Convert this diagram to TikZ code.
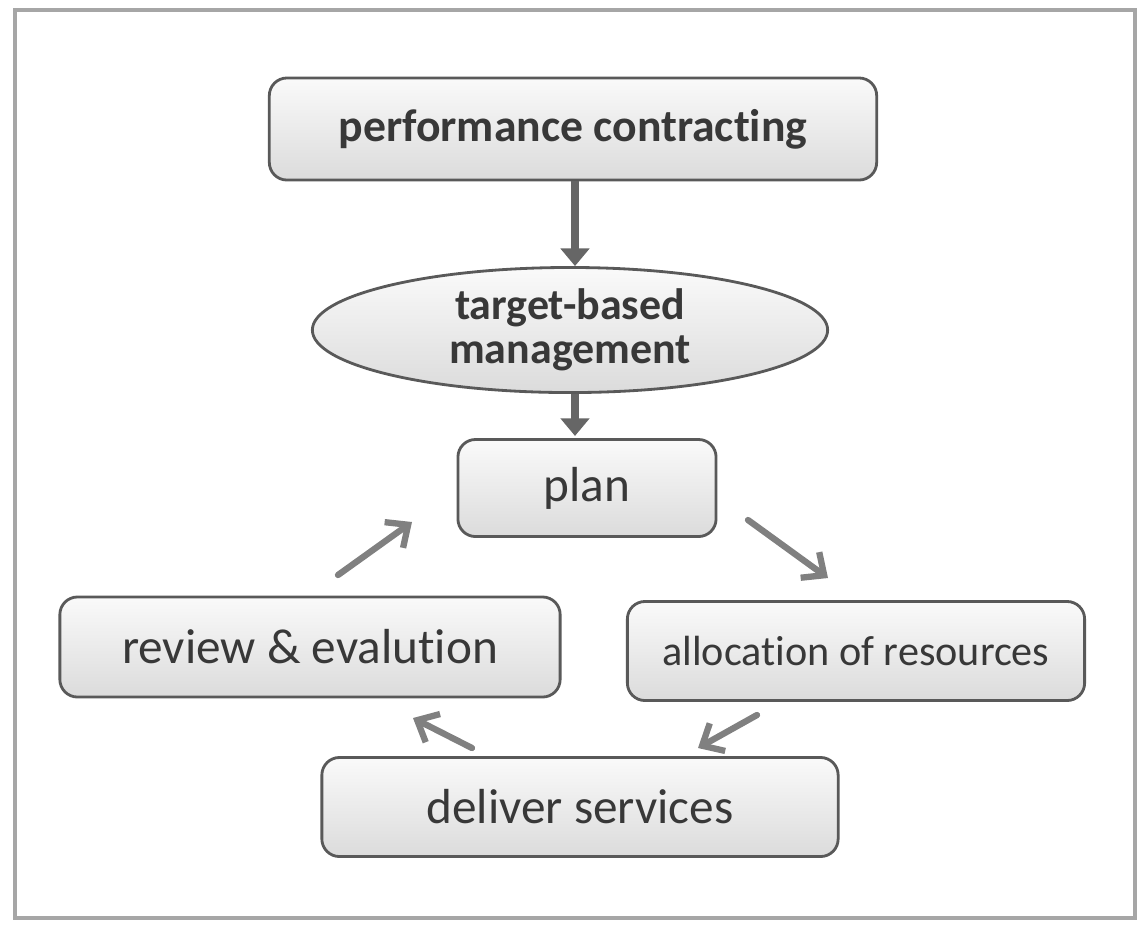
\documentclass[tikz,border=0pt]{standalone}
\usepackage{fontspec}
\setmainfont{Carlito}[Ligatures=NoCommon]
\usetikzlibrary{shapes.geometric,arrows.meta}
\definecolor{boxline}{gray}{0.35}
\definecolor{arrowgray}{gray}{0.4}
\definecolor{textgray}{gray}{0.22}
\tikzset{
  stagebox/.style={draw=boxline, thick, rounded corners=5pt, top color=gray!4, bottom color=gray!28, align=center, inner sep=0pt, text=textgray},
  stageellipse/.style={draw=boxline, thick, ellipse, top color=gray!4, bottom color=gray!28, align=center, inner sep=0pt, text=textgray},
  mainarrow/.style={draw=arrowgray, line width=2.4pt, -{Triangle[width=8pt,length=5pt]}},
  cyclearrow/.style={draw=black!50, line width=1.8pt, line cap=round, -{Straight Barb[width=9pt,length=5pt]}}
}
\begin{document}
\begin{tikzpicture}[x=0.01cm,y=-0.01cm]
        \useasboundingbox (0,0) rectangle (1142,926);
        %Frame
        \draw[gray!70, line width=1.2pt] (15,10) rectangle (1135,918);
        %Nodes
        \node[stagebox, minimum width=6.07cm, minimum height=1.02cm, font=\bfseries\fontsize{13}{15}\selectfont] (contract) at (573,129) {performance contracting};
        \node[stageellipse, minimum width=5.15cm, minimum height=1.25cm, font=\bfseries\fontsize{12.5}{12.5}\selectfont] (target) at (570,330) {target-based\\management};
        \node[stagebox, minimum width=2.58cm, minimum height=0.97cm, font=\fontsize{14}{16}\selectfont] (plan) at (587,488) {plan};
        \node[stagebox, minimum width=5cm, minimum height=1cm, font=\fontsize{14}{16}\selectfont] (review) at (310,647) {review \& evalution};
        \node[stagebox, minimum width=4.57cm, minimum height=0.99cm, font=\fontsize{12}{14}\selectfont] (alloc) at (856,651) {allocation of resources};
        \node[stagebox, minimum width=5.16cm, minimum height=0.99cm, font=\fontsize{14}{16}\selectfont] (deliver) at (580,807) {deliver services};
        %Arrows
        \draw[mainarrow] (contract.south -| 575,0) -- (target.north -| 575,0);
        \draw[mainarrow] (target.south -| 575,0) -- ++(0,42);
        \coordinate (p1) at (748,520);
        \coordinate (a1) at (828,578);
        \coordinate (a2) at (757,715);
        \coordinate (d1) at (698,748);
        \coordinate (d2) at (472,748);
        \coordinate (r1) at (413,718);
        \coordinate (r2) at (338,575);
        \coordinate (p2) at (412,522);
        \draw[cyclearrow] (p1) -- (a1);
        \draw[cyclearrow] (a2) -- (d1);
        \draw[cyclearrow] (d2) -- (r1);
        \draw[cyclearrow] (r2) -- (p2);
\end{tikzpicture}
\end{document}
